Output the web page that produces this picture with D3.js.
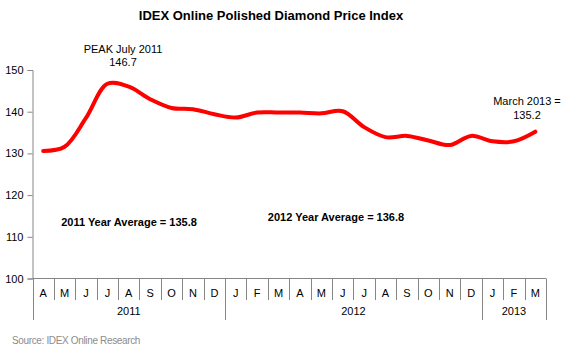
<!DOCTYPE html>
<html><head><meta charset="utf-8">
<script src="https://cdn.jsdelivr.net/npm/d3@7"></script>
<style>body{margin:0;background:#fff}svg{display:block}text{font-family:"Liberation Sans",Arial,sans-serif}</style>
</head><body>
<script>
const months = ["A","M","J","J","A","S","O","N","D","J","F","M","A","M","J","J","A","S","O","N","D","J","F","M"];
const years = ["2011","2012","2013"];
const yearSpans = [9, 12, 3];
const values = [130.6,131.6,138.5,146.7,146.0,143.0,140.9,140.6,139.4,138.6,139.8,139.8,139.8,139.6,140.1,136.3,133.9,134.2,133.1,132.0,134.2,132.9,132.9,135.2];
const yTicks = [100,110,120,130,140,150];

(function(){
const W = 572, H = 356;
const svg = d3.select("body").append("svg").attr("width", W).attr("height", H);
const pl = 32.5, pr = 546, pt = 70, pb = 278.5;
const idx = d3.range(months.length);
const x = d3.scaleBand().domain(idx).range([pl, pr]).padding(0);
const y = d3.scaleLinear().domain([100, 150]).range([pb, pt]);
const axisCol = "#868686";

svg.append("text").attr("x", 271).attr("y", 20).attr("text-anchor", "middle")
  .attr("font-weight", "bold").attr("font-size", 13).text("IDEX Online Polished Diamond Price Index");

// y axis
const ya = svg.append("g").attr("transform", `translate(${pl},0)`)
  .call(d3.axisLeft(y).tickValues(yTicks).tickSize(5).tickPadding(4));
ya.select(".domain").attr("stroke", axisCol);
ya.selectAll(".tick line").attr("stroke", axisCol);
ya.selectAll(".tick text").attr("font-size", 11).attr("fill", "#000").style("font-family", "Liberation Sans, Arial, sans-serif");

// x axis
const xa = svg.append("g").attr("transform", `translate(0,${pb})`)
  .call(d3.axisBottom(x).tickFormat(i => months[i]).tickSize(0).tickPadding(11));
xa.select(".domain").remove();
xa.selectAll(".tick text").attr("font-size", 11).attr("fill", "#000").style("font-family", "Liberation Sans, Arial, sans-serif");
svg.append("line").attr("x1", pl).attr("x2", pr).attr("y1", pb).attr("y2", pb).attr("stroke", axisCol);
// dividers
const yearStarts = [0]; yearSpans.forEach((s,i)=>yearStarts.push(yearStarts[i]+s));
idx.concat([months.length]).forEach(i => {
  const xx = i < months.length ? x(i) : pr;
  const isYear = yearStarts.includes(i);
  svg.append("line").attr("x1", Math.round(xx)+0.5).attr("x2", Math.round(xx)+0.5)
    .attr("y1", pb).attr("y2", isYear ? 320 : 300).attr("stroke", axisCol);
});
years.forEach((yr, k) => {
  const x0 = x(yearStarts[k]);
  const x1 = yearStarts[k+1] < months.length ? x(yearStarts[k+1]) : pr;
  svg.append("text").attr("x", (x0+x1)/2).attr("y", 315).attr("text-anchor", "middle")
    .attr("font-size", 11).text(yr);
});

// line
const line = d3.line().x((d,i) => x(i) + x.bandwidth()/2).y(d => y(d)).curve(d3.curveCatmullRom.alpha(0.5));
svg.append("path").datum(values).attr("d", line).attr("fill", "none")
  .attr("stroke", "#ff0000").attr("stroke-width", 4).attr("stroke-linecap", "round").attr("stroke-linejoin", "round");

// annotations
const ann = (t, xx, yy, bold) => svg.append("text").attr("x", xx).attr("y", yy).attr("text-anchor", "middle")
  .attr("font-size", 11).attr("font-weight", bold ? "bold" : "normal").text(t);
ann("PEAK July 2011", 123, 53);
ann("146.7", 123, 66);
ann("March 2013 =", 527, 105);
ann("135.2", 527, 119);
ann("2011 Year Average = 135.8", 129, 226, true);
ann("2012 Year Average = 136.8", 336, 221, true);

svg.append("text").attr("x", 12).attr("y", 344).attr("font-size", 10).attr("letter-spacing", -0.35)
  .attr("fill", "#8c8c8c").text("Source: IDEX Online Research");
})();
</script>
</body></html>
